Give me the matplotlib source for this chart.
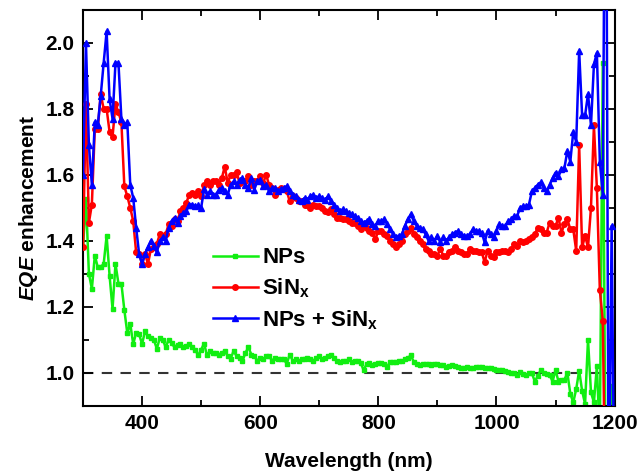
import numpy as np
import matplotlib
matplotlib.use("Agg")
import matplotlib.pyplot as plt
from matplotlib.ticker import MultipleLocator

plt.rcParams['font.family'] = ['Liberation Sans', 'DejaVu Sans']
plt.rcParams['font.weight'] = 'bold'
plt.rcParams['mathtext.fontset'] = 'custom'
plt.rcParams['mathtext.rm'] = 'Liberation Sans:bold'
plt.rcParams['mathtext.bf'] = 'Liberation Sans:bold'
plt.rcParams['mathtext.it'] = 'Liberation Sans:italic:bold'
plt.rcParams['mathtext.bfit'] = 'Liberation Sans:italic:bold'

# wavelength grid (nm), 5 nm steps
wavelength = np.arange(300, 1205, 5)

nps = [
    1.38, 1.527, 1.30, 1.254, 1.355, 1.32, 1.32, 1.33, 1.415, 1.294,
    1.193, 1.33, 1.27, 1.27, 1.19, 1.12, 1.148, 1.087, 1.12, 1.116,
    1.087, 1.125, 1.11, 1.105, 1.10, 1.072, 1.105, 1.10, 1.077, 1.10,
    1.09, 1.077, 1.085, 1.088, 1.077, 1.08, 1.088, 1.077, 1.07, 1.052,
    1.07, 1.088, 1.052, 1.066, 1.06, 1.06, 1.055, 1.06, 1.066, 1.05,
    1.042, 1.066, 1.05, 1.045, 1.035, 1.06, 1.077, 1.055, 1.05, 1.036,
    1.045, 1.04, 1.05, 1.05, 1.036, 1.045, 1.04, 1.04, 1.04, 1.027,
    1.055, 1.036, 1.04, 1.034, 1.04, 1.04, 1.045, 1.04, 1.036, 1.045,
    1.05, 1.04, 1.045, 1.05, 1.055, 1.045, 1.036, 1.033, 1.036, 1.035,
    1.04, 1.033, 1.035, 1.036, 1.03, 1.008, 1.025, 1.03, 1.023, 1.025,
    1.03, 1.03, 1.025, 1.018, 1.033, 1.033, 1.033, 1.036, 1.036, 1.04,
    1.045, 1.052, 1.033, 1.025, 1.023, 1.027, 1.027, 1.027, 1.023, 1.025,
    1.027, 1.023, 1.022, 1.018, 1.02, 1.023, 1.02, 1.018, 1.015, 1.013,
    1.018, 1.015, 1.013, 1.016, 1.018, 1.018, 1.015, 1.013, 1.013, 1.01,
    1.008, 1.008, 1.008, 1.005, 1.003, 1.0, 0.998, 0.993, 1.003, 0.995,
    0.993, 0.998, 0.998, 0.973, 0.99, 1.008, 0.998, 0.995, 0.993, 0.973,
    1.008, 0.973, 0.978, 0.978, 1.0, 0.936, 0.91, 0.95, 1.006, 0.945,
    0.905, 1.10, 0.94, 0.91, 1.02, 0.80, 1.94, 0.60, 0.60, 0.96,
    0.60,
]

sinx = [
    1.38, 1.815, 1.455, 1.51, 1.74, 1.74, 1.845, 1.80, 1.80, 1.73,
    1.715, 1.815, 1.79, 1.76, 1.565, 1.535, 1.50, 1.46, 1.365, 1.36,
    1.33, 1.36, 1.33, 1.375, 1.38, 1.39, 1.42, 1.415, 1.42, 1.45,
    1.445, 1.466, 1.46, 1.49, 1.50, 1.516, 1.54, 1.545, 1.54, 1.55,
    1.535, 1.57, 1.58, 1.57, 1.58, 1.58, 1.57, 1.59, 1.625, 1.575,
    1.60, 1.60, 1.61, 1.575, 1.58, 1.58, 1.595, 1.57, 1.58, 1.58,
    1.595, 1.575, 1.60, 1.57, 1.56, 1.54, 1.555, 1.56, 1.556, 1.55,
    1.52, 1.535, 1.53, 1.52, 1.52, 1.51, 1.51, 1.50, 1.51, 1.505,
    1.505, 1.50, 1.49, 1.486, 1.495, 1.48, 1.47, 1.47, 1.465, 1.465,
    1.46, 1.455, 1.455, 1.445, 1.435, 1.45, 1.44, 1.43, 1.425, 1.405,
    1.43, 1.43, 1.42, 1.415, 1.40, 1.39, 1.38, 1.39, 1.40, 1.42,
    1.43, 1.44, 1.42, 1.41, 1.40, 1.39, 1.375, 1.37, 1.36, 1.36,
    1.355, 1.375, 1.355, 1.355, 1.365, 1.37, 1.38, 1.37, 1.365, 1.36,
    1.36, 1.375, 1.37, 1.37, 1.365, 1.365, 1.335, 1.37, 1.355, 1.35,
    1.365, 1.365, 1.37, 1.37, 1.365, 1.375, 1.39, 1.385, 1.40, 1.395,
    1.40, 1.405, 1.41, 1.42, 1.44, 1.435, 1.425, 1.425, 1.455, 1.445,
    1.445, 1.47, 1.425, 1.45, 1.465, 1.435, 1.435, 1.37, 1.69, 1.38,
    1.415, 1.38, 1.50, 1.75, 1.56, 1.25, 1.158, 0.50, 0.50, 0.50,
    0.50,
]

nps_sinx = [
    1.60, 2.00, 1.69, 1.57, 1.76, 1.75, 1.84, 1.94, 2.035, 1.83,
    1.77, 1.94, 1.94, 1.77, 1.75, 1.76, 1.57, 1.53, 1.44, 1.36,
    1.33, 1.36, 1.38, 1.40, 1.385, 1.365, 1.40, 1.41, 1.40, 1.44,
    1.46, 1.47, 1.455, 1.476, 1.485, 1.49, 1.51, 1.51, 1.505, 1.507,
    1.50, 1.556, 1.54, 1.55, 1.54, 1.54, 1.555, 1.56, 1.55, 1.54,
    1.57, 1.58, 1.57, 1.585, 1.59, 1.57, 1.56, 1.59, 1.555, 1.58,
    1.585, 1.565, 1.57, 1.55, 1.56, 1.56, 1.55, 1.556, 1.56, 1.566,
    1.55, 1.54, 1.535, 1.525, 1.52, 1.53, 1.525, 1.535, 1.54, 1.53,
    1.535, 1.53, 1.525, 1.535, 1.52, 1.51, 1.50, 1.49, 1.495, 1.49,
    1.485, 1.48, 1.475, 1.47, 1.46, 1.455, 1.46, 1.465, 1.45, 1.445,
    1.46, 1.46, 1.465, 1.45, 1.435, 1.42, 1.41, 1.415, 1.42, 1.445,
    1.465, 1.48, 1.46, 1.445, 1.44, 1.435, 1.42, 1.40, 1.41, 1.40,
    1.415, 1.395, 1.41, 1.40, 1.41, 1.42, 1.425, 1.43, 1.42, 1.415,
    1.415, 1.42, 1.435, 1.43, 1.43, 1.425, 1.395, 1.43, 1.42, 1.41,
    1.43, 1.45, 1.445, 1.445, 1.46, 1.465, 1.475, 1.475, 1.50, 1.505,
    1.505, 1.51, 1.55, 1.56, 1.57, 1.577, 1.56, 1.55, 1.57, 1.59,
    1.607, 1.595, 1.617, 1.62, 1.673, 1.64, 1.73, 1.70, 1.976, 1.78,
    1.78, 1.845, 1.75, 1.935, 1.97, 1.64, 1.54, 3.00, 0.50, 1.445,
    0.50,
]

fig = plt.figure(figsize=(6.39, 4.75), dpi=100)
ax = fig.add_axes([83 / 639, 1 - 405.6 / 475, 531.6 / 639, 395.6 / 475])

ax.axhline(1.0, color='#333333', lw=1.5, ls=(0, (5, 4)), zorder=1)
ax.plot(wavelength, nps, color='#11ee11', marker='s', ms=3.5, lw=1.8,
        label='NPs', zorder=2)
ax.plot(wavelength, sinx, color='#ff0000', marker='o', ms=4, lw=1.8,
        label='SiN$_\\mathbf{x}$', zorder=3)
ax.plot(wavelength, nps_sinx, color='#0000ff', marker='^', ms=4.5, lw=1.8,
        label='NPs + SiN$_\\mathbf{x}$', zorder=4)

ax.set_xlim(300, 1200)
ax.set_ylim(0.9, 2.1)
ax.xaxis.set_major_locator(MultipleLocator(200))
ax.xaxis.set_minor_locator(MultipleLocator(100))
ax.yaxis.set_major_locator(MultipleLocator(0.2))
ax.yaxis.set_minor_locator(MultipleLocator(0.1))
ax.tick_params(which='both', direction='in', top=True, right=True,
               labelsize=15, width=1.3, pad=6)
ax.tick_params(which='major', length=7)
ax.tick_params(which='minor', length=4)
for s in ax.spines.values():
    s.set_linewidth(1.5)

ax.set_xlabel('Wavelength (nm)', fontsize=15, fontweight='bold', labelpad=14)
ax.set_ylabel('$\\mathbfit{EQE}$ enhancement', fontsize=15,
              fontweight='bold', labelpad=4)

ax.legend(loc='upper left', bbox_to_anchor=(0.245, 0.400), frameon=False,
          fontsize=16, handlelength=2.0, handletextpad=0.2,
          labelspacing=0.36, borderpad=0, borderaxespad=0)

fig.savefig('out.png', dpi=100)
